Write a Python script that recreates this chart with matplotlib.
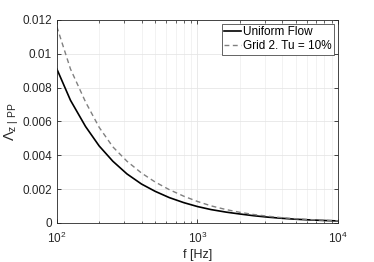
import numpy as np
import matplotlib
matplotlib.use("Agg")
from matplotlib import pyplot as plt
from matplotlib.ticker import FixedLocator, FuncFormatter, LogLocator

plt.rcParams['font.family'] = ['Liberation Sans', 'DejaVu Sans']
plt.rcParams['mathtext.fontset'] = 'custom'
plt.rcParams['mathtext.rm'] = 'Liberation Sans'
plt.rcParams['mathtext.it'] = 'Liberation Sans'
plt.rcParams['mathtext.bf'] = 'Liberation Sans:bold'

# frequencies [Hz]
freq = [100, 125, 160, 200, 250, 315, 400, 500, 630, 800, 1000, 1250,
        1600, 2000, 2500, 3150, 4000, 5000, 6300, 8000, 10000]

# Uniform Flow
uniform = [9.1e-3, 7.25e-3, 5.7e-3, 4.55e-3, 3.65e-3, 2.9e-3, 2.3e-3,
           1.87e-3, 1.5e-3, 1.2e-3, 0.97e-3, 0.79e-3, 0.64e-3, 0.53e-3,
           0.43e-3, 0.345e-3, 0.275e-3, 0.22e-3, 0.18e-3, 0.145e-3, 0.12e-3]

# Grid 2, Tu = 10%
grid2 = [11.6e-3, 9.1e-3, 7.15e-3, 5.65e-3, 4.5e-3, 3.65e-3, 2.95e-3,
         2.42e-3, 1.97e-3, 1.58e-3, 1.27e-3, 1.01e-3, 0.79e-3, 0.63e-3,
         0.50e-3, 0.40e-3, 0.31e-3, 0.25e-3, 0.20e-3, 0.16e-3, 0.13e-3]

yticks = [0, 0.002, 0.004, 0.006, 0.008, 0.01, 0.012]

fig = plt.figure(figsize=(3.74, 2.62), dpi=100)
ax = fig.add_axes([0.152, 0.149, 0.752, 0.775])

ax.plot(freq, uniform, color='black', lw=1.2, label='Uniform Flow')
ax.plot(freq, grid2, color='#808080', lw=1.0, ls=(0, (3.5, 2.5)),
        label='Grid 2. Tu = 10%')

ax.set_xscale('log')
ax.set_xlim(100, 10000)
ax.set_ylim(0, 0.012)
ax.yaxis.set_major_locator(FixedLocator(yticks))
ax.yaxis.set_major_formatter(FuncFormatter(lambda v, p: f'{v:g}'))
ax.xaxis.set_major_locator(LogLocator(base=10, numticks=5))
ax.xaxis.set_minor_locator(LogLocator(base=10, subs=np.arange(2, 10), numticks=20))

ax.grid(True, which='major', color='#e6e6e6', lw=0.6)
ax.grid(True, which='minor', axis='x', color='#ededed', lw=0.5)
ax.set_axisbelow(True)

ax.tick_params(which='both', direction='in', top=True, right=True,
               labelsize=8.5, colors='#262626', labelcolor='#262626')
ax.tick_params(which='major', length=3, width=0.6)
ax.tick_params(which='minor', length=1.8, width=0.5)
ax.tick_params(axis='x', which='major', pad=6)
for s in ax.spines.values():
    s.set_color('#262626')
    s.set_linewidth(0.6)

ax.set_xlabel('f [Hz]', fontsize=9, color='#262626', labelpad=2)
ax.set_ylabel(r'$\Lambda_{z\ |\ \mathrm{PP}}$', fontsize=10.5, color='#262626',
              labelpad=1)

leg = ax.legend(loc='upper right', fontsize=8.5, frameon=True, fancybox=False,
                edgecolor='#262626', framealpha=1, handlelength=1.4,
                handletextpad=0.2, borderpad=0.2, labelspacing=0.15,
                borderaxespad=0.35)
leg.get_frame().set_linewidth(0.5)

fig.savefig('out.png', dpi=100)
